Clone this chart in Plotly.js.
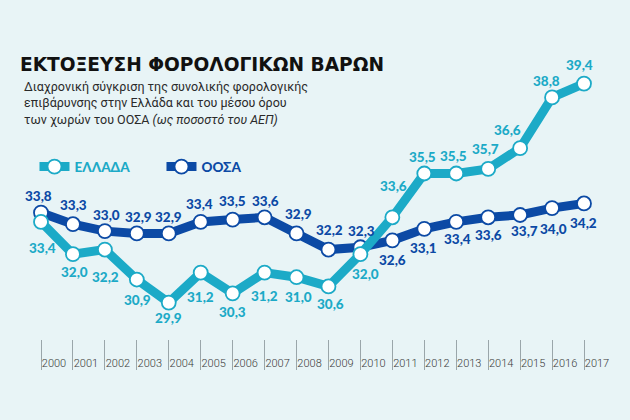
<!DOCTYPE html>
<html>
<head>
<meta charset="utf-8">
<script src="https://cdn.plot.ly/plotly-3.0.1.min.js"></script>
<style>
  html, body { margin: 0; padding: 0; background: #e8f4f6; }
  #chart { width: 630px; height: 420px; }
</style>
</head>
<body>
<div id="chart"></div>
<script>
// ---- data ----
const years = [2000, 2001, 2002, 2003, 2004, 2005, 2006, 2007, 2008, 2009, 2010, 2011, 2012, 2013, 2014, 2015, 2016, 2017];
const greece = [33.4, 32.0, 32.2, 30.9, 29.9, 31.2, 30.3, 31.2, 31.0, 30.6, 32.0, 33.6, 35.5, 35.5, 35.7, 36.6, 38.8, 39.4];
const oecd = [33.8, 33.3, 33.0, 32.9, 32.9, 33.4, 33.5, 33.6, 32.9, 32.2, 32.3, 32.6, 33.1, 33.4, 33.6, 33.7, 34.0, 34.2];
const seriesNames = ['ΕΛΛΑΔΑ', 'ΟΟΣΑ'];

// ---- styling / layout helpers (not data) ----
const GR_COLOR = '#1caac7';
const OE_COLOR = '#0c4aa5';
const BG = '#e8f4f6';
// label offsets in px [dx, dy(up)]
const grOffsets = [[1,-26],[2,-18],[1,-27],[1,-20],[0,-15],[0,-24],[0,-19],[0,-23],[2,-20],[2,-18],[5,-20],[1,31],[-2,17],[-3,18],[-3,20],[-13,18],[-6,16],[-5,19]];
const oeOffsets = [[-3,17],[1,19],[2,16],[2,16],[0,16],[-1,18],[0,19],[1,16],[2,19],[1,20],[1,16],[0,-20],[-1,-19],[1,-17],[0,-18],[4,-16],[1,-21],[-1,-20]];

const fmt = v => v.toFixed(1).replace('.', ',');

const traces = [
  {
    x: years, y: oecd, name: '<span style="color:' + OE_COLOR + '">' + seriesNames[1] + '</span>',
    type: 'scatter', mode: 'lines+markers', cliponaxis: false, legendrank: 2,
    line: { color: OE_COLOR, width: 9 },
    marker: { size: 14, color: '#ffffff', line: { color: OE_COLOR, width: 1.8 } },
    hoverinfo: 'skip'
  },
  {
    x: years, y: greece, name: '<span style="color:' + GR_COLOR + '">' + seriesNames[0] + '</span>',
    type: 'scatter', mode: 'lines+markers', cliponaxis: false, legendrank: 1,
    line: { color: GR_COLOR, width: 9 },
    marker: { size: 14, color: '#ffffff', line: { color: GR_COLOR, width: 1.8 } },
    hoverinfo: 'skip'
  }
];

const labelFont = c => ({ family: 'Lato, "Open Sans", sans-serif', size: 13.5, weight: 900, color: c });
const annotations = [];
years.forEach((yr, i) => {
  annotations.push({ x: yr, y: greece[i], xref: 'x', yref: 'y', text: fmt(greece[i]), showarrow: false,
    xshift: grOffsets[i][0], yshift: grOffsets[i][1], font: labelFont(GR_COLOR) });
  annotations.push({ x: yr, y: oecd[i], xref: 'x', yref: 'y', text: fmt(oecd[i]), showarrow: false,
    xshift: oeOffsets[i][0], yshift: oeOffsets[i][1], font: labelFont(OE_COLOR) });
});
annotations.push({
  xref: 'paper', yref: 'paper', x: -0.035, y: 0.974, xanchor: 'left', yanchor: 'top',
  align: 'left', showarrow: false,
  text: 'Διαχρονική σύγκριση της συνολικής φορολογικής<br>επιβάρυνσης στην Ελλάδα και του μέσου όρου<br>των χωρών του ΟΟΣΑ <i>(ως ποσοστό του ΑΕΠ)</i>',
  font: { family: 'Roboto, "Noto Sans", sans-serif', size: 12.5, weight: 400, color: '#2a2a2a' }
});

const layout = {
  width: 630, height: 420,
  paper_bgcolor: BG, plot_bgcolor: BG,
  margin: { l: 41, r: 46, t: 70, b: 81 },
  title: {
    text: 'ΕΚΤΟΞΕΥΣΗ ΦΟΡΟΛΟΓΙΚΩΝ ΒΑΡΩΝ',
    xref: 'container', yref: 'container', x: 20 / 630, xanchor: 'left', y: 1 - 64 / 420, yanchor: 'middle',
    font: { family: '"DejaVu Sans", sans-serif', size: 18.6, weight: 'bold', color: '#111111' }
  },
  showlegend: true,
  legend: {
    orientation: 'h', x: -0.012, xanchor: 'left', y: 0.64, yanchor: 'middle',
    bgcolor: 'rgba(0,0,0,0)', entrywidth: 82, entrywidthmode: 'pixels',
    font: { family: 'Lato, "Open Sans", sans-serif', size: 13.5, weight: 900, color: GR_COLOR }
  },
  xaxis: {
    range: [2000, 2017], showgrid: false, zeroline: false, showline: false,
    tickvals: years, ticktext: years.map(String),
    ticks: 'outside', ticklen: 30, tickwidth: 1, tickcolor: '#9aa6aa',
    ticklabelshift: 13, ticklabelstandoff: -16,
    tickfont: { family: 'Roboto, sans-serif', size: 11, weight: 300, color: '#3a3a3a' }
  },
  yaxis: {
    range: [28.32, 39.99], visible: false, showgrid: false, zeroline: false
  },
  annotations: annotations
};

Plotly.newPlot('chart', traces, layout, { staticPlot: true, displayModeBar: false });
</script>
</body>
</html>
